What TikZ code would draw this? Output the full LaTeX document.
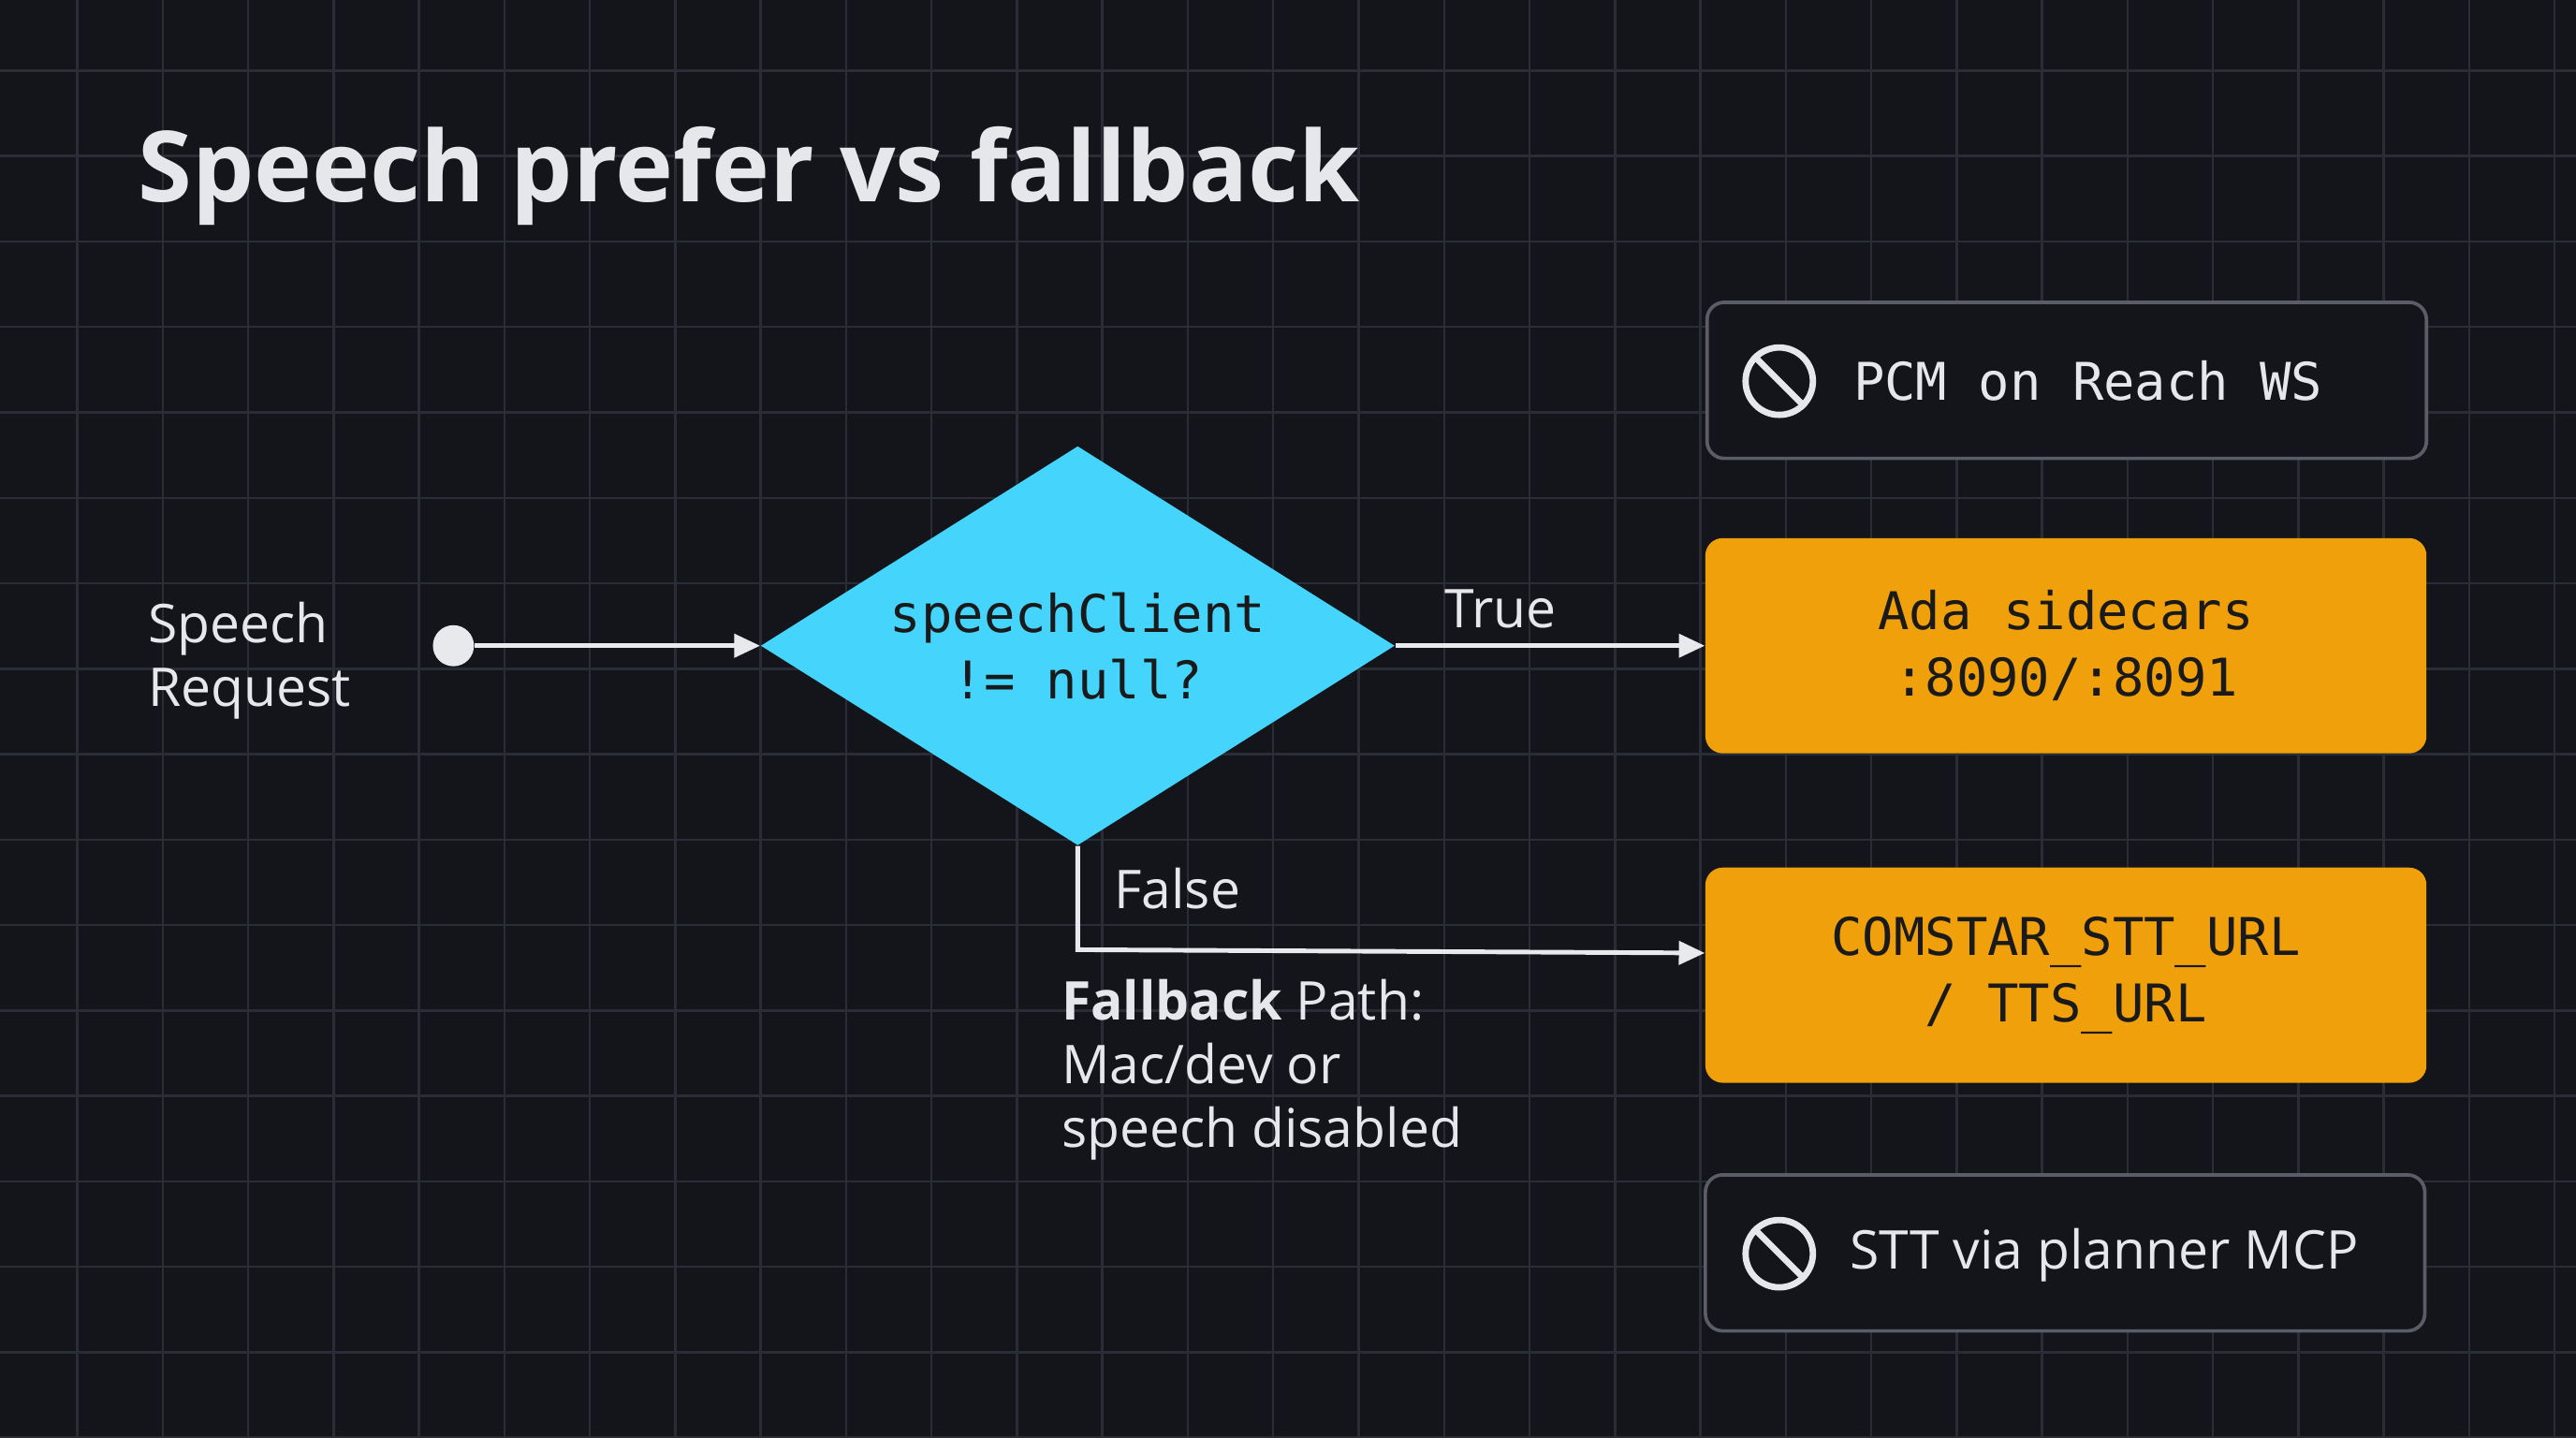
\documentclass[tikz,border=0pt]{standalone}
\usepackage{fontspec}
\setmainfont{Open Sans}
\setmonofont{DejaVu Sans Mono}
\usetikzlibrary{shapes.geometric,arrows.meta}
\definecolor{bg}{HTML}{13151B}
\definecolor{grid}{HTML}{2A2D35}
\definecolor{cyanD}{HTML}{45D4FB}
\definecolor{orangeB}{HTML}{F0A00A}
\definecolor{txt}{HTML}{E6E7EB}
\definecolor{edge}{HTML}{5A5D66}
\definecolor{dark}{HTML}{1A1A1A}
\begin{document}
\begin{tikzpicture}[x=0.02cm,y=0.02cm,
  lbl/.style={text=txt,font=\fontsize{18.5}{22}\selectfont,align=left},
  mono/.style={font=\ttfamily\fontsize{18}{23}\selectfont,align=center},
  obox/.style={draw=none,fill=orangeB,rounded corners=6pt,minimum width=8.78cm,minimum height=2.62cm,text=dark,mono},
  gbox/.style={draw=edge,line width=1.2pt,fill=bg,rounded corners=6pt,minimum width=8.76cm,minimum height=1.9cm},
  conn/.style={draw=txt!90,line width=1.6pt,-{Triangle[length=9pt,width=8pt]}},
  ban/.style={draw=txt,line width=2.2pt,circle,minimum size=0.82cm,inner sep=0pt}]
\fill[bg] (0,0) rectangle (1568,875);
\useasboundingbox (0,0) rectangle (1568,875);
\foreach \x in {47,99,...,1568} \draw[grid,line width=0.8pt] (\x,0) -- (\x,875);
\foreach \y in {43,95,...,875} \draw[grid,line width=0.8pt] (0,875-\y) -- (1568,875-\y);
\node[anchor=west,text=txt,font=\fontsize{34}{40}\selectfont\bfseries] (title) at (78,768) {Speech prefer vs fallback};
\node[lbl,anchor=west] (req) at (84,473) {Speech\\Request};
\node[circle,fill=txt!90,minimum size=0.5cm,inner sep=0pt] (dot) at (276,482) {};
\node[diamond,fill=cyanD,aspect=1.59,minimum width=7.72cm,minimum height=4.86cm,inner sep=0pt] (dec) at (656,482) {};
\node[mono,text=dark] at (656,482) {speechClient\\!= null?};
\node[obox] (ada) at (1257.5,482) {Ada sidecars\\:8090/:8091};
\node[obox] (com) at (1257.5,281.5) {COMSTAR\_STT\_URL\\ / TTS\_URL};
\node[gbox] (pcm) at (1258,643.5) {};
\node[gbox] (stt) at (1257,112.5) {};
\node[mono,text=txt,anchor=west] (pcmt) at (1122,643) {PCM on Reach WS};
\node[lbl,anchor=west] (sttt) at (1120,111) {STT via planner MCP};
\node[ban] (b1) at (1083,643) {};
\draw[txt,line width=2.2pt] (b1.north west) -- (b1.south east);
\node[ban] (b2) at (1083,112) {};
\draw[txt,line width=2.2pt] (b2.north west) -- (b2.south east);
\draw[conn] (dot) -- (dec.west);
\draw[conn] (dec.east) -- node[above,lbl,pos=0.34,yshift=2pt]{True} (ada.west);
\coordinate (bend) at (656,297);
\draw[conn] (dec.south) -- (bend) -- (com.west |- 0,295);
\node[lbl,anchor=west] (false) at (672,334) {False};
\node[lbl,anchor=north west] (fb) at (640,285) {\textbf{Fallback} Path:\\Mac/dev or\\speech disabled};
\end{tikzpicture}
\end{document}
